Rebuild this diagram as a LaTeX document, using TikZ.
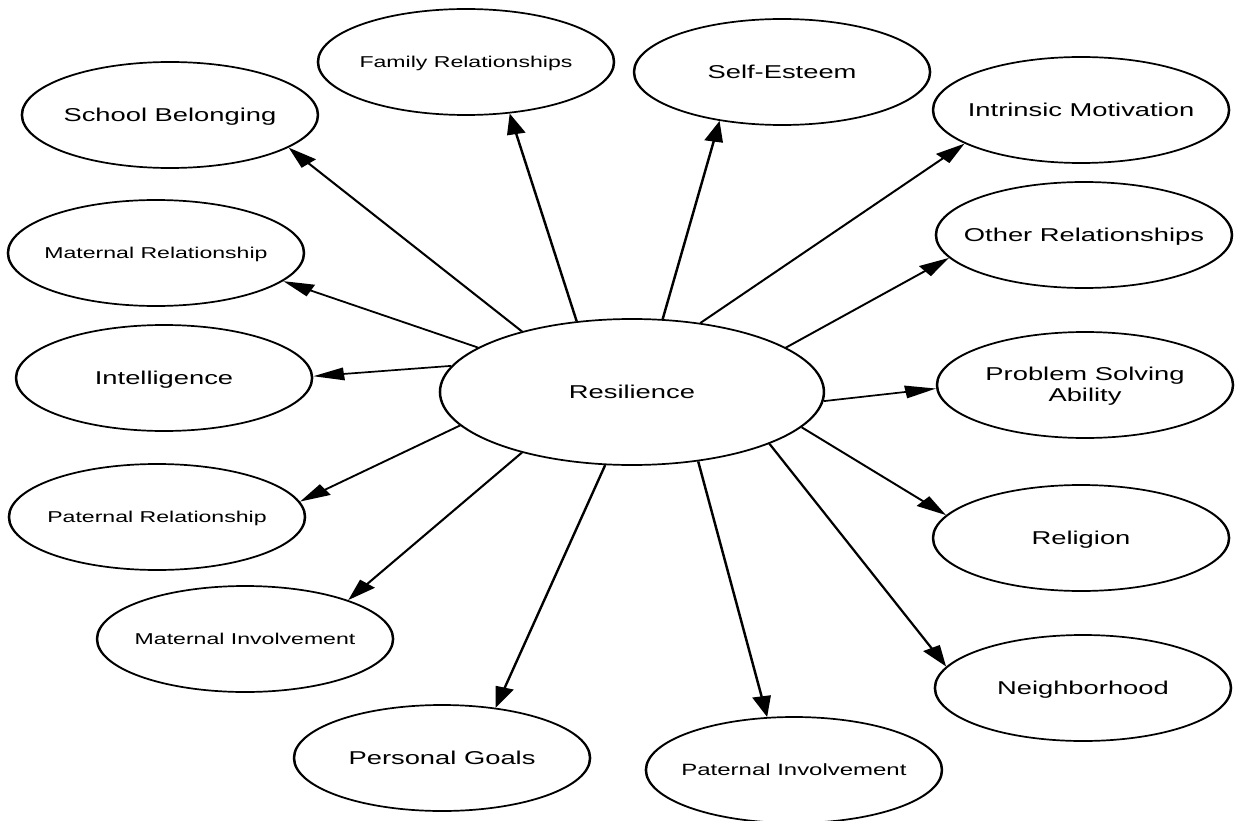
\documentclass[tikz,border=0pt]{standalone}
\usepackage{fontspec}
\setmainfont{Liberation Sans}
\usetikzlibrary{arrows.meta,shapes.geometric}
\begin{document}
\begin{tikzpicture}[x=1pt,y=-1pt]
\useasboundingbox[fill=white] (0,0) rectangle (1236,821);
\begin{scope}[transform canvas={xscale=1.47},
  sat/.style={draw, line width=1.7pt, ellipse, inner sep=0pt,
    minimum width=201.4pt, minimum height=106pt,
    text height=13.3pt, text depth=0pt,
    font=\fontsize{18.6}{21}\selectfont},
  small/.style={font=\fontsize{15.7}{19}\selectfont, text height=11.2pt},
  core/.style={sat, minimum width=261.2pt, minimum height=146pt},
  arr/.style={line width=1.7pt, -{Triangle[length=21pt,width=12.5pt]}}]

\node[core] (res) at (429.9,392) {\makebox[0pt]{Resilience}};

\node[sat] (sb) at (115.6,115) {\makebox[0pt]{School Belonging}};
\node[sat,small] (fam) at (317.0,62) {\makebox[0pt]{Family Relationships}};
\node[sat] (se) at (532.0,72) {\makebox[0pt]{Self-Esteem}};
\node[sat] (im) at (735.4,110) {\makebox[0pt]{Intrinsic Motivation}};
\node[sat] (or) at (737.4,235) {\makebox[0pt]{Other Relationships}};
\node[sat, text height={}, text depth={}] (ps) at (738.1,385) {\makebox[0pt]{\raisebox{-6pt}[21pt][21pt]{\begin{tabular}{@{}c@{}}Problem Solving\\Ability\end{tabular}}}};
\node[sat] (rel) at (735.4,538) {\makebox[0pt]{Religion}};
\node[sat] (nb) at (736.7,688) {\makebox[0pt]{Neighborhood}};
\node[sat,small,font=\fontsize{16.3}{19}\selectfont,text height=11.7pt] (pi) at (540.1,770) {\makebox[0pt]{Paternal Involvement}};
\node[sat] (pg) at (300.7,758) {\makebox[0pt]{Personal Goals}};
\node[sat,small] (mi) at (166.7,639) {\makebox[0pt]{Maternal Involvement}};
\node[sat,small] (pr) at (106.8,517) {\makebox[0pt]{Paternal Relationship}};
\node[sat] (int) at (111.6,378) {\makebox[0pt]{Intelligence}};
\node[sat,small] (mr) at (106.1,253) {\makebox[0pt]{Maternal Relationship}};

\draw[arr] (res.141) -- (sb.-22.2);
\draw[arr] (res.157.8) -- (mr.-18.6);
\draw[arr] (res.168) -- (int.1.7);
\draw[arr] (res.118.1) -- (fam.-60.6);
\draw[arr] (res.74.4) -- (se.-131);
\draw[arr] (res.56.1) -- (im.-157.7);
\draw[arr] (res.23.1) -- (or.-166.6);
\draw[arr] (res.-4.4) -- (ps.-178.3);
\draw[arr] (res.-17.6) -- (rel.166);
\draw[arr] (res.-29.1) -- (nb.167.4);
\draw[arr] (res.-57.7) -- (pi.109.8);
\draw[arr] (res.-104) -- (pg.54.7);
\draw[arr] (res.-141.8) -- (mi.29.1);
\draw[arr] (res.-164.5) -- (pr.9.9);
\end{scope}
\end{tikzpicture}
\end{document}
